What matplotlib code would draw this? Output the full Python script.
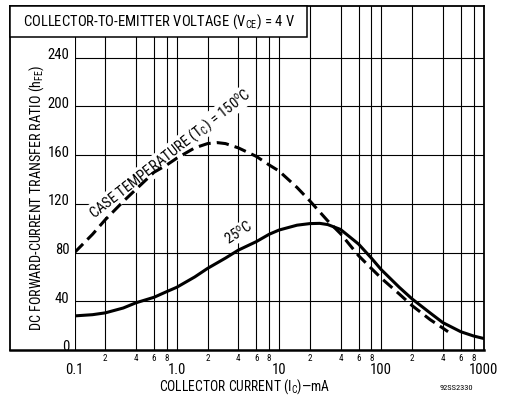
import matplotlib
matplotlib.use("Agg")
import matplotlib.pyplot as plt
import matplotlib.transforms as mtransforms
from matplotlib.patches import Rectangle
from matplotlib.lines import Line2D

W, H = 513, 401

# collector current (mA) and DC forward-current transfer ratio (hFE)
ic_150c = [0.1, 0.15, 0.2, 0.3, 0.4, 0.6, 0.8, 1, 1.5, 2, 2.5, 3, 4, 6, 8,
           10, 15, 20, 30, 40, 60, 80, 100, 150, 200, 300, 400, 450]
hfe_150c = [80, 95, 107, 122, 132, 146, 152, 157.5, 166, 169.5, 170.3, 169.5,
            166, 159, 152, 147, 133.5, 122.5, 106, 95.5, 77.5, 67, 59, 46,
            36.5, 25, 18, 15]

ic_25c = [0.1, 0.15, 0.2, 0.3, 0.4, 0.6, 0.8, 1, 1.5, 2, 3, 4, 6, 8, 10, 15,
          20, 25, 30, 40, 60, 80, 100, 150, 200, 300, 400, 600, 800, 1000]
hfe_25c = [28, 29, 30.5, 34.5, 38.8, 43.3, 48, 51.5, 60, 67, 75.5, 82, 89, 95,
           98.5, 102.5, 103.8, 104, 103, 99, 87, 75.5, 66, 51.5, 42, 30.5,
           22.5, 15, 11.5, 9.5]

y_ticks = [0, 40, 80, 120, 160, 200, 240]
x_major = [0.1, 1, 10, 100, 1000]
x_major_labels = ["0.1", "1.0", "10", "100", "1000"]
x_minor = [m * d for d in [0.1, 1, 10, 100] for m in [2, 4, 6, 8]]
x_minor_labels = ["2", "4", "6", "8"] * 4

FONT = ["Roboto Condensed", "DejaVu Sans"]
plt.rcParams["font.family"] = FONT
plt.rcParams["mathtext.fontset"] = "custom"
plt.rcParams["mathtext.rm"] = FONT[0]
plt.rcParams["mathtext.it"] = FONT[0]
plt.rcParams["mathtext.default"] = "regular"


def fx(x):
    return x / W


def fy(y):
    return 1 - y / H


fig = plt.figure(figsize=(W / 100, H / 100), dpi=100)
fig.patch.set_facecolor("white")

ax = fig.add_axes([fx(74.5), fy(350), (483.5 - 74.5) / W, (350 - 6) / H])
ax.set_xscale("log")
ax.set_xlim(0.1, 1000)
ax.set_ylim(0, 282.5)
for s in ax.spines.values():
    s.set_visible(False)

ax.set_xticks(x_major)
ax.set_xticklabels(x_major_labels, fontsize=10.5)
ax.set_xticks(x_minor, minor=True)
ax.set_xticklabels(x_minor_labels, minor=True, fontsize=6.5)
ax.set_yticks(y_ticks)
ax.set_yticklabels([str(v) for v in y_ticks], fontsize=10.5)
ax.tick_params(axis="x", which="major", length=0, pad=9)
ax.tick_params(axis="x", which="minor", length=0, pad=3)
ax.tick_params(axis="y", length=0, pad=3.5)

# y labels sit a little above their grid lines
lift = mtransforms.ScaledTranslation(0, 3 / 72, fig.dpi_scale_trans)
for lbl in ax.get_yticklabels():
    lbl.set_transform(lbl.get_transform() + lift)

ax.grid(axis="x", which="both", color="black", lw=0.8)
ax.grid(axis="y", which="major", color="black", lw=0.8)
ax.set_axisbelow(True)

ax.plot(ic_150c, hfe_150c, color="black", lw=2.2, dashes=(4, 2),
        solid_capstyle="butt", zorder=4)
ax.plot(ic_25c, hfe_25c, color="black", lw=2.2, zorder=4)

white_box = dict(facecolor="white", edgecolor="none", pad=0.5)
ax.text(0.86, 161, "CASE TEMPERATURE (T$_C$) = 150$^o$C", rotation=38,
        ha="center", va="center", fontsize=10.5, bbox=white_box, zorder=3,
        rotation_mode="anchor")
ax.text(4.0, 96, "25$^o$C", rotation=33, ha="center", va="center",
        fontsize=10.5, bbox=white_box, zorder=3, rotation_mode="anchor")

# outer frame
frame_lw = 1.3
fig.add_artist(Line2D([fx(10), fx(10)], [fy(6), fy(350)], color="black", lw=frame_lw))
fig.add_artist(Line2D([fx(10), fx(484)], [fy(6), fy(6)], color="black", lw=frame_lw))
fig.add_artist(Line2D([fx(484), fx(484)], [fy(6), fy(350)], color="black", lw=frame_lw))
fig.add_artist(Line2D([fx(10), fx(484)], [fy(350), fy(350)], color="black", lw=1.8))

# header box with test condition
hdr = Rectangle((fx(10), fy(37)), (307 - 10) / W, (37 - 6) / H,
                transform=fig.transFigure, facecolor="white",
                edgecolor="black", lw=1.1, zorder=5)
fig.add_artist(hdr)
fig.text(fx(23), fy(22), "COLLECTOR-TO-EMITTER VOLTAGE (V$_{CE}$) = 4 V",
         ha="left", va="center", fontsize=10.5, zorder=6)

fig.text(fx(37), fy(198), "DC FORWARD-CURRENT TRANSFER RATIO (h$_{FE}$)",
         rotation=90, ha="center", va="center", fontsize=10.2)
fig.text(fx(245), fy(387), "COLLECTOR CURRENT (I$_C$)\u2014mA",
         ha="center", va="center", fontsize=9.8)
fig.text(fx(456), fy(388), "92SS2330", ha="center", va="center", fontsize=6)

fig.savefig("out.png", dpi=100, facecolor="white")
